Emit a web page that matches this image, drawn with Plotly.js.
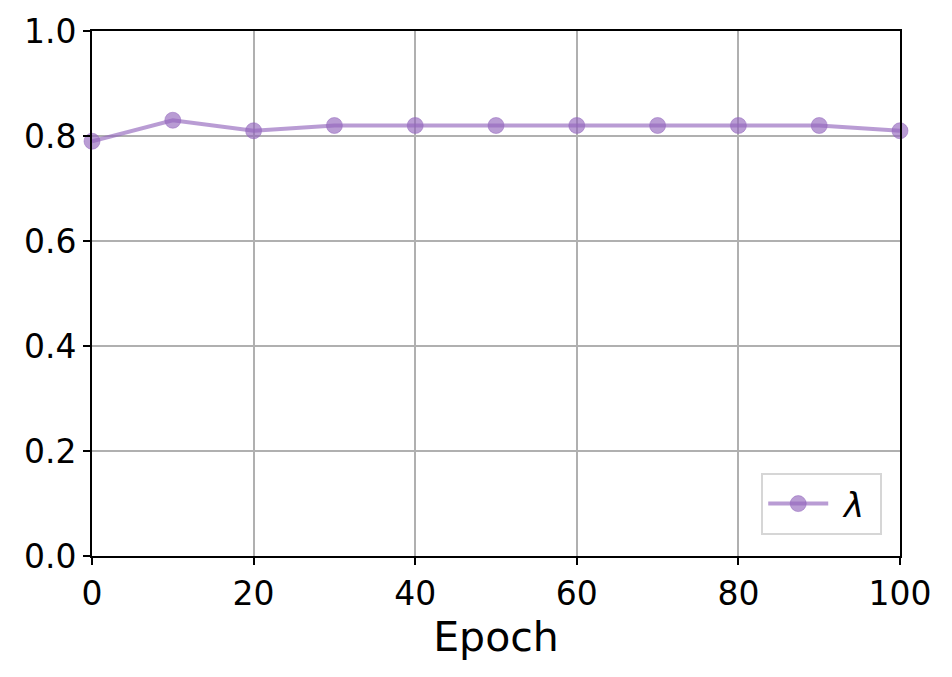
<!DOCTYPE html>
<html>
<head>
<meta charset="utf-8">
<script src="https://cdn.plot.ly/plotly-3.0.1.min.js"></script>
<style>
  html, body { margin: 0; padding: 0; background: #fff; }
  #chart { width: 952px; height: 677px; }
</style>
</head>
<body>
<div id="chart"></div>
<script>
const epochs = [0, 10, 20, 30, 40, 50, 60, 70, 80, 90, 100];
const lambdaValues = [0.79, 0.83, 0.81, 0.82, 0.82, 0.82, 0.82, 0.82, 0.82, 0.82, 0.81];
const seriesName = "&nbsp;<i>λ</i>&nbsp;";

const traceLambda = {
  x: epochs,
  y: lambdaValues,
  name: seriesName,
  type: "scatter",
  mode: "lines+markers",
  line: { color: "rgba(148,103,189,0.65)", width: 4 },
  marker: { color: "rgba(148,103,189,0.65)", size: 16, line: { color: "rgba(148,103,189,0.5)", width: 1 } },
  cliponaxis: false,
};

const axisCommon = {
  showline: true,
  linecolor: "#000",
  linewidth: 2,
  mirror: true,
  ticks: "outside",
  ticklen: 7,
  tickwidth: 2,
  tickcolor: "#000",
  showgrid: true,
  gridcolor: "#b0b0b0",
  gridwidth: 1.6,
  zeroline: false,
  tickfont: { family: "DejaVu Sans", size: 33, color: "#000" },
};

const layout = {
  width: 952,
  height: 677,
  margin: { l: 92, r: 52, t: 31, b: 121 },
  paper_bgcolor: "#fff",
  plot_bgcolor: "#fff",
  font: { family: "DejaVu Sans", color: "#000" },
  xaxis: Object.assign({}, axisCommon, {
    range: [0, 100],
    tickvals: [0, 20, 40, 60, 80, 100],
    title: { text: "Epoch", font: { family: "DejaVu Sans", size: 41, color: "#000" }, standoff: 8 },
  }),
  yaxis: Object.assign({}, axisCommon, {
    range: [0, 1],
    tickvals: [0, 0.2, 0.4, 0.6, 0.8, 1.0],
    tickformat: ".1f",
  }),
  showlegend: true,
  legend: {
    x: 0.978,
    y: 0.04,
    xanchor: "right",
    yanchor: "bottom",
    bgcolor: "rgba(255,255,255,0.8)",
    bordercolor: "#d6d6d6",
    borderwidth: 2,
    font: { family: "DejaVu Sans", size: 34, color: "#000" },
    itemwidth: 60,
  },
};

Plotly.newPlot("chart", [traceLambda], layout, { displayModeBar: false });
</script>
</body>
</html>
